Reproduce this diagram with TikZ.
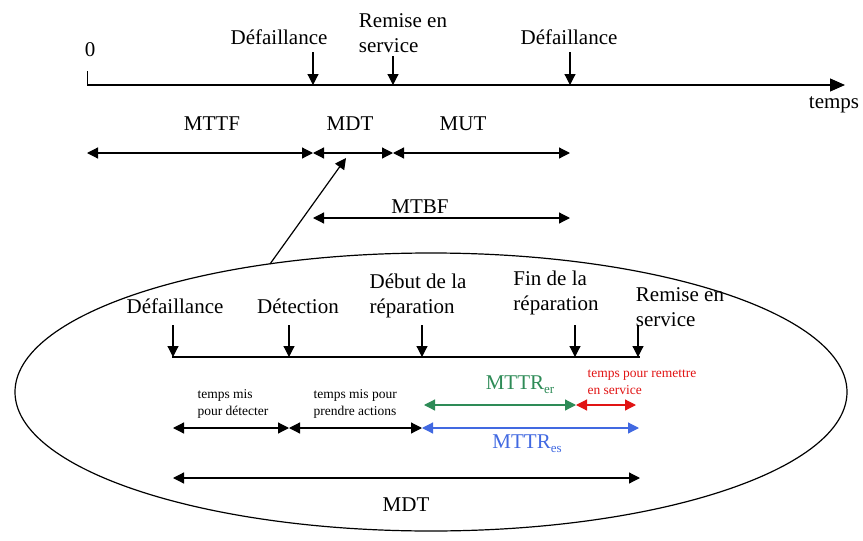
\documentclass[tikz,border=0pt]{standalone}
\usepackage{fontspec}
\setmainfont{Liberation Serif}
\usetikzlibrary{arrows.meta,shapes.geometric}
\definecolor{mgreen}{RGB}{46,139,87}
\definecolor{mblue}{RGB}{65,105,225}
\definecolor{mred}{RGB}{225,20,20}
\begin{document}
\begin{tikzpicture}[x=1pt,y=-1pt, line width=1.2pt,
  >={Triangle[length=11pt,width=11pt]},
  big/.style={font=\fontsize{21}{25}\selectfont, inner sep=0pt, align=left},
  small/.style={font=\fontsize{13.5}{17}\selectfont, inner sep=0pt, align=left},
  span/.style={<->},
  down/.style={->}]
\useasboundingbox (0,0) rectangle (863,541);
% ---- top axis
\coordinate (a0) at (87,85);
\coordinate (aend) at (845,85);
\draw[-{Triangle[length=15pt,width=13pt]}] (a0) -- (aend);
\coordinate (z0) at (87,71);
\draw[line width=1pt] (z0) -- (a0);
\node[big] (zero) at (90,50) {0};
\node[big] (temps) at (834,105) {temps};
\coordinate (f1) at (313,85); \coordinate (f1t) at (313,52);
\coordinate (r1) at (393,85); \coordinate (r1t) at (393,56);
\coordinate (f2) at (570,85); \coordinate (f2t) at (570,52);
\draw[down] (f1t) -- (f1);
\draw[down] (r1t) -- (r1);
\draw[down] (f2t) -- (f2);
\node[big] (lf1) at (279,37) {Défaillance};
\node[big] (lr1) at (403,33) {Remise en\\service};
\node[big] (lf2) at (569,37) {Défaillance};
% ---- spans
\coordinate (s0) at (87,153); \coordinate (s1) at (313,153);
\coordinate (s2) at (393,153); \coordinate (s3) at (570,153);
\draw[span] (s0) -- (s1);
\draw[span] (s1) -- (s2);
\draw[span] (s2) -- (s3);
\node[big] (mttf) at (212,124) {MTTF};
\node[big] (mdt1) at (350,124) {MDT};
\node[big] (mut) at (463,124) {MUT};
\coordinate (b0) at (313,218); \coordinate (b1) at (570,218);
\draw[span] (b0) -- (b1);
\node[big] (mtbf) at (420,207) {MTBF};
% ---- ellipse
\node[draw, ellipse, minimum width=832pt, minimum height=278pt, inner sep=0pt] (ell) at (431,392) {};
\coordinate (pfrom) at (270,264); \coordinate (pto) at (346,158);
\draw[->] (pfrom) -- (pto);
% ---- lower axis
\coordinate (l0) at (172,357); \coordinate (l1) at (640,357);
\draw (l0) -- (l1);
\coordinate (d1) at (173,357); \coordinate (d1t) at (173,325);
\coordinate (d2) at (289,357); \coordinate (d2t) at (289,325);
\coordinate (d3) at (422,357); \coordinate (d3t) at (422,325);
\coordinate (d4) at (575,357); \coordinate (d4t) at (575,325);
\coordinate (d5) at (638,357); \coordinate (d5t) at (638,325);
\foreach \p in {d1,d2,d3,d4,d5} \draw[down] (\p t) -- (\p);
\node[big] (ld1) at (175,306) {Défaillance};
\node[big] (ld2) at (298,306) {Détection};
\node[big] (ld3) at (418,296) {Début de la\\réparation};
\node[big] (ld4) at (556,293) {Fin de la\\réparation};
\node[big] (ld5) at (680,307) {Remise en\\service};
% ---- lower spans
\coordinate (t0) at (173,428); \coordinate (t1) at (289,428);
\coordinate (t2) at (422,428); \coordinate (t3) at (639,428);
\draw[span] (t0) -- (t1);
\draw[span] (t1) -- (t2);
\draw[span, mblue] (t2) -- (t3);
\node[small, anchor=west] (tmd) at (197,404) {temps mis\\pour détecter};
\node[small, anchor=west] (tmp) at (313,404) {temps mis pour\\prendre actions};
\node[big, mblue] (mes) at (527,444) {MTTR\raisebox{-0.4ex}{\fontsize{13}{13}\selectfont es}};
\coordinate (g0) at (424,405); \coordinate (g1) at (576,405);
\coordinate (g2) at (636,405);
\draw[span, mgreen] (g0) -- (g1);
\draw[span, mred] (g1) -- (g2);
\node[big, mgreen] (mer) at (520,385) {MTTR\raisebox{-0.4ex}{\fontsize{13}{13}\selectfont er}};
\node[small, mred, anchor=west] (trs) at (587,382) {temps pour remettre\\en service};
\coordinate (m0) at (173,478); \coordinate (m1) at (640,478);
\draw[span] (m0) -- (m1);
\node[big] (mdt2) at (406,505) {MDT};
\end{tikzpicture}
\end{document}
